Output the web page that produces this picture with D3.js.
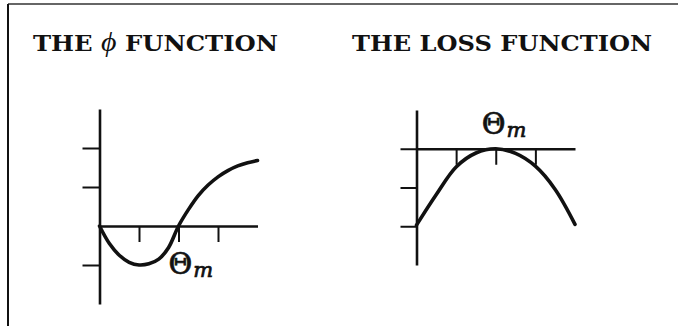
<!DOCTYPE html>
<html>
<head>
<meta charset="utf-8">
<script src="https://cdn.jsdelivr.net/npm/d3@7"></script>
<style>
  html, body { margin: 0; padding: 0; background: #fff; }
  svg { display: block; }
</style>
</head>
<body>
<svg id="chart" width="678" height="326"></svg>
<script>
// ---- data ----
const titles = ["THE ", "\u03D5", " FUNCTION", "THE LOSS FUNCTION"];
const thetaLabel = "\u0398";
const thetaSub = "m";

// phi function
const phiTheta  = [0, 0.25, 0.5, 0.75, 1.0, 1.25, 1.5, 1.75, 2.0, 2.25, 2.5, 2.75, 3.0, 3.25, 3.5, 3.75, 4.0];
const phiValues = [0, -0.45, -0.75, -0.93, -1.0, -0.97, -0.85, -0.55, 0.0, 0.42, 0.78, 1.05, 1.26, 1.42, 1.54, 1.62, 1.68];
const phiXTicks = [1, 2, 3];
const phiYTicks = [-1, 1, 2];

// loss function
const lossTheta  = [0, 0.5, 1.0, 1.5, 2.0, 2.5, 3.0, 3.5, 4.0];
const lossValues = [-1.97, -1.18, -0.47, -0.11, 0, -0.12, -0.45, -1.05, -1.95];
const lossXTicks = [1, 2, 3];
const lossYTicks = [0, -1, -2];
const thetaM = 2;

// ---- drawing ----
const svg = d3.select("#chart");
const ink = "#111";

// frame
svg.append("line").attr("x1", 8).attr("y1", 4).attr("x2", 678).attr("y2", 4)
  .attr("stroke", "#333").attr("stroke-width", 1.6);
svg.append("line").attr("x1", 8).attr("y1", 4).attr("x2", 8).attr("y2", 326)
  .attr("stroke", ink).attr("stroke-width", 2);

// titles
const tFont = "'DejaVu Serif', 'Liberation Serif', serif";
const t1 = svg.append("text").attr("x", 33).attr("y", 51)
  .attr("font-family", tFont).attr("font-weight", "bold").attr("font-size", 22)
  .attr("fill", ink).attr("textLength", 245).attr("lengthAdjust", "spacingAndGlyphs");
t1.append("tspan").text(titles[0]);
t1.append("tspan").attr("font-family", "'Liberation Serif', serif").attr("font-style", "italic")
  .attr("font-weight", "normal").attr("font-size", 27).text(titles[1]);
t1.append("tspan").text(titles[2]);

svg.append("text").attr("x", 352).attr("y", 51)
  .attr("font-family", tFont).attr("font-weight", "bold").attr("font-size", 22)
  .attr("fill", ink).attr("textLength", 300).attr("lengthAdjust", "spacingAndGlyphs")
  .text(titles[3]);

function styleAxis(g) {
  g.selectAll("path.domain").attr("stroke", ink).attr("stroke-width", 2.6);
  g.selectAll(".tick line").attr("stroke", ink).attr("stroke-width", 2);
  g.selectAll(".tick text").remove();
}

function thetaText(x, y) {
  const t = svg.append("text").attr("x", x).attr("y", y).attr("fill", ink)
    .attr("stroke", ink).attr("stroke-width", 0.7);
  t.append("tspan").attr("font-family", "'DejaVu Serif', serif")
    .attr("font-size", 29).text(thetaLabel);
  t.append("tspan").attr("font-family", "'DejaVu Serif', serif").attr("font-style", "italic")
    .attr("font-size", 21).attr("dx", 1).attr("dy", 3).text(thetaSub);
}

// ---- phi chart ----
{
  const x = d3.scaleLinear().domain([0, 4]).range([99.5, 257.5]);
  const y = d3.scaleLinear().domain([-2, 3]).range([304, 109]);
  const gx = svg.append("g").attr("transform", `translate(0,${y(0)})`)
    .call(d3.axisBottom(x).tickValues(phiXTicks).tickSize(16).tickSizeOuter(0).tickFormat(""));
  styleAxis(gx);
  const gy = svg.append("g").attr("transform", `translate(${x(0)},0)`)
    .call(d3.axisLeft(y).tickValues(phiYTicks).tickSize(17).tickSizeOuter(0).tickFormat(""));
  styleAxis(gy);
  const line = d3.line().x((d, i) => x(phiTheta[i])).y(d => y(d)).curve(d3.curveCatmullRom.alpha(0.5));
  svg.append("path").datum(phiValues).attr("d", line)
    .attr("fill", "none").attr("stroke", ink).attr("stroke-width", 3.6).attr("stroke-linecap", "round");
  thetaText(x(thetaM) - 10, y(-1) + 9);
}

// ---- loss chart ----
{
  const x = d3.scaleLinear().domain([0, 4]).range([416.5, 575]);
  const y = d3.scaleLinear().domain([-3, 1]).range([265, 110]);
  const gx = svg.append("g").attr("transform", `translate(0,${y(0)})`)
    .call(d3.axisBottom(x).tickValues(lossXTicks).tickSize(16).tickSizeOuter(0).tickFormat(""));
  styleAxis(gx);
  const gy = svg.append("g").attr("transform", `translate(${x(0)},0)`)
    .call(d3.axisLeft(y).tickValues(lossYTicks).tickSize(16).tickSizeOuter(0).tickFormat(""));
  styleAxis(gy);
  const line = d3.line().x((d, i) => x(lossTheta[i])).y(d => y(d)).curve(d3.curveCatmullRom.alpha(0.5));
  svg.append("path").datum(lossValues).attr("d", line)
    .attr("fill", "none").attr("stroke", ink).attr("stroke-width", 3.6).attr("stroke-linecap", "round");
  thetaText(x(thetaM) - 14, y(0) - 15);
}
</script>
</body>
</html>
